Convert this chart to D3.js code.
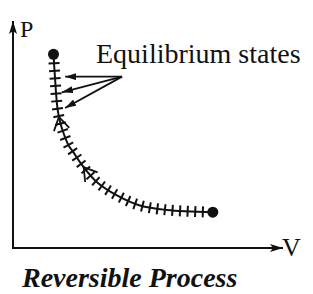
<!DOCTYPE html>
<html>
<head>
  <meta charset="utf-8">
  <title>Reversible Process</title>
  <style>
    body { margin: 0; background: #fff; }
    text { font-family: "Liberation Serif", "Times New Roman", serif; fill: #111; }
  </style>
</head>
<body>
<script src="https://d3js.org/d3.v7.min.js"></script>
<script>
  var width = 313,
      height = 294;

  // curve (arbitrary units)
  var volumes   = [1.5, 1.55, 1.65, 1.75, 1.85, 2.05, 2.22, 2.56, 3.1, 3.85, 4.7, 5.7, 7.4];
  var pressures = [8.65, 7.7, 6.2, 5.6, 5.2, 4.6, 4.3, 3.7, 2.95, 2.35, 1.9, 1.7, 1.6];
  // where the direction chevrons sit on the curve (by volume)
  var arrowVolumes = [1.7, 2.62];
  // where the label pointers end (volume, pressure)
  var pointerV = [1.93, 1.81, 1.93];
  var pointerP = [7.65, 6.95, 6.25];
  var labelOrigin = [4.04, 7.65];

  var axisLabels = ['P', 'V'];
  var label = 'Equilibrium states';
  var title = 'Reversible Process';

  var svg = d3.select('body')
    .append('svg')
    .attr('width', width)
    .attr('height', height);

  var x = d3.scaleLinear().domain([0, 10]).range([13, 283]);
  var y = d3.scaleLinear().domain([0, 10]).range([248, 24]);

  var defs = svg.append('defs');
  defs.append('marker')
    .attr('id', 'axhead')
    .attr('viewBox', '0 0 13 8')
    .attr('refX', 13).attr('refY', 4)
    .attr('markerWidth', 13).attr('markerHeight', 8)
    .attr('markerUnits', 'userSpaceOnUse')
    .attr('orient', 'auto')
    .append('path').attr('d', 'M0,0 L13,4 L0,8 L3,4 Z').attr('fill', '#111');
  defs.append('marker')
    .attr('id', 'ptrhead')
    .attr('viewBox', '0 0 11 7')
    .attr('refX', 11).attr('refY', 3.5)
    .attr('markerWidth', 11).attr('markerHeight', 7)
    .attr('markerUnits', 'userSpaceOnUse')
    .attr('orient', 'auto')
    .append('path').attr('d', 'M0,0 L11,3.5 L0,7 Z').attr('fill', '#111');

  // axes
  svg.append('path')
    .attr('d', 'M' + x(0) + ',' + y(0) + 'V' + (y(10) - 3))
    .attr('stroke', '#111').attr('stroke-width', 2).attr('fill', 'none')
    .attr('marker-end', 'url(#axhead)');
  svg.append('path')
    .attr('d', 'M' + (x(0) - 1) + ',' + y(0) + 'H' + x(10))
    .attr('stroke', '#111').attr('stroke-width', 2).attr('fill', 'none')
    .attr('marker-end', 'url(#axhead)');

  svg.append('text').attr('x', 20).attr('y', 37)
    .style('font-size', '24px').text(axisLabels[0]);
  svg.append('text').attr('x', 282).attr('y', 256)
    .style('font-size', '26px').text(axisLabels[1]);

  // the process curve
  var pts = volumes.map(function(v, i) { return [x(v), y(pressures[i])]; });
  var line = d3.line().curve(d3.curveCatmullRom.alpha(0.5));
  var curve = svg.append('path')
    .attr('d', line(pts))
    .attr('fill', 'none')
    .attr('stroke', '#111')
    .attr('stroke-width', 2);

  var node = curve.node();
  var total = node.getTotalLength();

  function frame(len) {
    var a = node.getPointAtLength(Math.max(0, len - 1));
    var b = node.getPointAtLength(Math.min(total, len + 1));
    var p = node.getPointAtLength(len);
    var ang = Math.atan2(b.y - a.y, b.x - a.x);
    return {x: p.x, y: p.y, ang: ang};
  }

  // hatch marks across the curve
  var step = 7.6, half = 5.5, ticks = [];
  for (var s = 9; s < total - 6; s += step) ticks.push(frame(s));
  svg.append('g').selectAll('line')
    .data(ticks)
    .join('line')
    .attr('x1', function(d) { return d.x - half * Math.cos(d.ang + Math.PI / 2); })
    .attr('y1', function(d) { return d.y - half * Math.sin(d.ang + Math.PI / 2); })
    .attr('x2', function(d) { return d.x + half * Math.cos(d.ang + Math.PI / 2); })
    .attr('y2', function(d) { return d.y + half * Math.sin(d.ang + Math.PI / 2); })
    .attr('stroke', '#111')
    .attr('stroke-width', 2);

  // direction chevrons (pointing back toward the start)
  function lengthAtX(px) {
    var best = 0, bd = Infinity;
    for (var l = 0; l <= total; l += 0.5) {
      var d = Math.abs(node.getPointAtLength(l).x - px);
      if (d < bd) { bd = d; best = l; }
    }
    return best;
  }
  var chev = arrowVolumes.map(function(v) { return frame(lengthAtX(x(v))); });
  svg.append('g').selectAll('path')
    .data(chev)
    .join('path')
    .attr('d', function(d) {
      var L = 15, sp = 0.55;
      var a1 = d.ang + sp, a2 = d.ang - sp;
      return 'M' + (d.x + L * Math.cos(a1)) + ',' + (d.y + L * Math.sin(a1)) +
             'L' + d.x + ',' + d.y +
             'L' + (d.x + L * Math.cos(a2)) + ',' + (d.y + L * Math.sin(a2));
    })
    .attr('fill', 'none')
    .attr('stroke', '#111')
    .attr('stroke-width', 1.8);

  // end points
  svg.append('g').selectAll('circle')
    .data([pts[0], pts[pts.length - 1]])
    .join('circle')
    .attr('cx', function(d) { return d[0]; })
    .attr('cy', function(d) { return d[1]; })
    .attr('r', 5.5)
    .attr('fill', '#111');

  // label and its pointers
  svg.append('g').selectAll('line')
    .data(pointerV)
    .join('line')
    .attr('x1', x(labelOrigin[0]))
    .attr('y1', y(labelOrigin[1]))
    .attr('x2', function(d) { return x(d); })
    .attr('y2', function(d, i) { return y(pointerP[i]); })
    .attr('stroke', '#111')
    .attr('stroke-width', 1.8)
    .attr('marker-end', 'url(#ptrhead)');

  svg.append('text').attr('x', 96).attr('y', 63)
    .style('font-size', '28px').text(label);

  svg.append('text').attr('x', 22).attr('y', 287)
    .style('font-size', '28px')
    .style('font-weight', 'bold')
    .style('font-style', 'italic')
    .text(title);
</script>
</body>
</html>
